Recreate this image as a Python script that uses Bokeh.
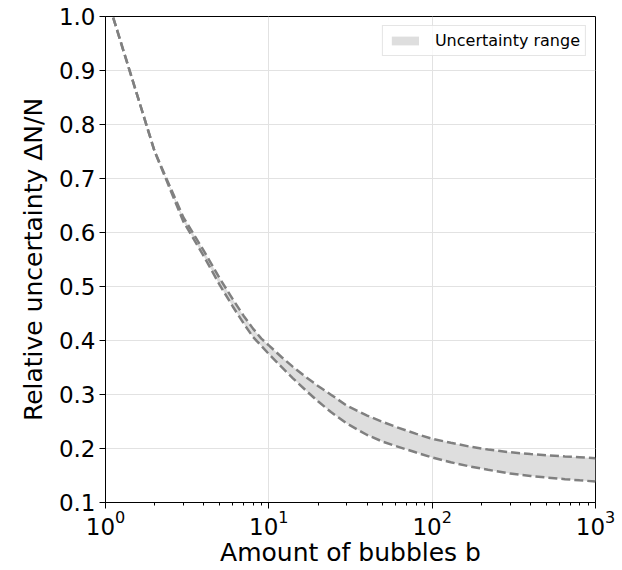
from bokeh.plotting import figure
from bokeh.models import (Range1d, FixedTicker, PrintfTickFormatter, LogTickFormatter,
                          ColumnDataSource)
from bokeh.embed import file_html
from bokeh.resources import INLINE

# ---- data ----
bubbles = [1, 2, 3, 4, 5, 6, 7, 8, 9, 10, 12, 14, 17, 20, 24, 30, 40, 50, 60, 80, 100,
           130, 170, 220, 300, 400, 500, 650, 800, 1000]
upper = [1.044, 0.75, 0.628, 0.566, 0.515, 0.477, 0.446, 0.422, 0.4035, 0.391, 0.369, 0.3516,
         0.3314, 0.3159, 0.2997, 0.2793, 0.261, 0.249, 0.240, 0.227, 0.218, 0.2105, 0.2035,
         0.198, 0.193, 0.1897, 0.1875, 0.1853, 0.1837, 0.182]
lower = [1.044, 0.75, 0.620, 0.556, 0.503, 0.4635, 0.432, 0.4065, 0.390, 0.375, 0.3505, 0.3304,
         0.3065, 0.2874, 0.2676, 0.2463, 0.225, 0.2125, 0.2045, 0.1925, 0.1835, 0.1744, 0.1668,
         0.1606, 0.1535, 0.1491, 0.1462, 0.1432, 0.141, 0.139]

x_major = [1, 10, 100, 1000]
x_minor = [m * 10 ** e for e in range(3) for m in range(2, 10)]
y_ticks = [0.1, 0.2, 0.3, 0.4, 0.5, 0.6, 0.7, 0.8, 0.9, 1.0]

legend_text = "Uncertainty range"
x_label = "Amount of bubbles b"
y_label = "Relative uncertainty ΔN/N"

FONT = "DejaVu Sans"
LABEL_FS = "25px"
TICK_FS = "23px"

src = ColumnDataSource(dict(b=bubbles, upper=upper, lower=lower))

p = figure(width=622, height=570, x_axis_type="log",
           x_range=Range1d(1, 1000), y_range=Range1d(0.1, 1.0),
           output_backend="svg", toolbar_location=None,
           min_border_left=105, min_border_right=27, min_border_top=16, min_border_bottom=68)
p.background_fill_color = "white"
p.border_fill_color = "white"
p.outline_line_color = "black"
p.outline_line_width = 1
p.outline_line_alpha = 1

p.varea(x="b", y1="lower", y2="upper", source=src, fill_color="#dedede", fill_alpha=1.0,
        legend_label=legend_text)
p.line(x="b", y="upper", source=src, line_color="#808080", line_width=2.5, line_dash="9 4")
p.line(x="b", y="lower", source=src, line_color="#808080", line_width=2.5, line_dash="9 4")

# axes
p.xaxis.ticker = FixedTicker(ticks=x_major, minor_ticks=x_minor)
p.xaxis.formatter = LogTickFormatter()
p.yaxis.ticker = FixedTicker(ticks=y_ticks)
p.yaxis.formatter = PrintfTickFormatter(format="%.1f")
for ax in (p.xaxis[0], p.yaxis[0]):
    ax.axis_line_color = "black"
    ax.axis_line_width = 1
    ax.major_tick_line_color = "black"
    ax.minor_tick_line_color = "black"
    ax.major_tick_in = 0
    ax.major_tick_out = 6
    ax.minor_tick_in = 0
    ax.minor_tick_out = 3
    ax.major_label_text_font = FONT
    ax.major_label_text_font_size = TICK_FS
    ax.major_label_text_color = "black"
    ax.axis_label_text_font = FONT
    ax.axis_label_text_font_size = LABEL_FS
    ax.axis_label_text_font_style = "normal"
    ax.axis_label_text_color = "black"
p.yaxis.minor_tick_line_color = None
p.xaxis.axis_label = x_label
p.yaxis.axis_label = y_label
p.xaxis.major_label_standoff = 1
p.xaxis.axis_label_standoff = 0
p.yaxis.major_label_standoff = 4
p.yaxis.axis_label_standoff = 8

p.xgrid.grid_line_color = "#e2e2e2"
p.ygrid.grid_line_color = "#e2e2e2"
p.xgrid.ticker = FixedTicker(ticks=x_major)
p.ygrid.ticker = FixedTicker(ticks=y_ticks)

# legend
lg = p.legend[0]
lg.location = "top_right"
lg.margin = 9
lg.padding = 5
lg.spacing = 0
lg.glyph_width = 34
lg.glyph_height = 11
lg.label_standoff = 13
lg.label_text_font = FONT
lg.label_text_font_size = "16px"
lg.label_text_color = "black"
lg.border_line_color = "#cccccc"
lg.border_line_width = 1
lg.background_fill_alpha = 0.8

open("out.html", "w").write(file_html(p, INLINE))
